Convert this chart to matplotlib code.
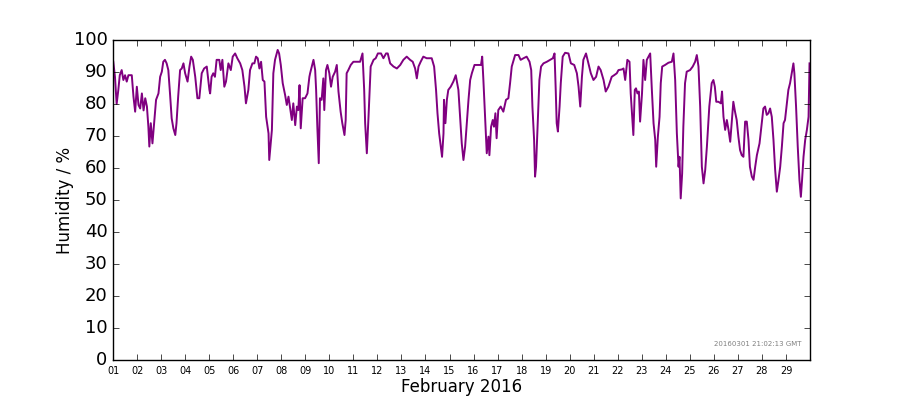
import numpy as np
import pandas as pd
import matplotlib
matplotlib.use("Agg")
import matplotlib.pyplot as plt
import matplotlib.dates as mdates

plt.style.use("classic")

# time in days since 2016-02-01 00:00, humidity in %
days = [
    0.01, 0.08, 0.15, 0.22, 0.28, 0.36, 0.43, 0.50, 0.57, 0.64, 0.78, 0.85, 0.92, 0.99,
    1.06, 1.13, 1.20, 1.27, 1.34, 1.41, 1.47, 1.51, 1.57, 1.64, 1.71, 1.79, 1.89, 1.96,
    2.03, 2.09, 2.16, 2.23, 2.30, 2.37, 2.44, 2.51, 2.59, 2.64, 2.71, 2.79, 2.86, 2.93,
    3.00, 3.10, 3.18, 3.25, 3.32, 3.42, 3.51, 3.59, 3.69, 3.79, 3.90, 4.01, 4.04, 4.10,
    4.17, 4.24, 4.31, 4.42, 4.48, 4.55, 4.63, 4.70, 4.80, 4.90, 4.98, 5.08, 5.17, 5.29,
    5.38, 5.47, 5.53, 5.63, 5.70, 5.80, 5.88, 5.95, 6.02, 6.09, 6.16, 6.23, 6.30, 6.37,
    6.47, 6.50, 6.56, 6.61, 6.67, 6.74, 6.85, 6.91, 6.98, 7.06, 7.16, 7.23, 7.30, 7.37,
    7.44, 7.50, 7.58, 7.65, 7.71, 7.76, 7.81, 7.89, 7.99, 8.09, 8.17, 8.20, 8.34, 8.41,
    8.45, 8.50, 8.56, 8.61, 8.68, 8.75, 8.79, 8.86, 8.92, 9.00, 9.07, 9.14, 9.24, 9.31,
    9.38, 9.47, 9.54, 9.63, 9.68, 9.72, 9.79, 9.89, 10.00, 10.28, 10.38, 10.45, 10.49,
    10.56, 10.63, 10.72, 10.84, 10.93, 11.02, 11.15, 11.25, 11.36, 11.43, 11.53, 11.67,
    11.81, 11.95, 12.08, 12.22, 12.36, 12.47, 12.57, 12.64, 12.71, 12.80, 12.91, 13.05,
    13.26, 13.36, 13.44, 13.50, 13.57, 13.64, 13.69, 13.75, 13.77, 13.83, 13.89, 13.95,
    14.05, 14.16, 14.26, 14.37, 14.44, 14.51, 14.58, 14.65, 14.72, 14.79, 14.86, 14.93,
    15.04, 15.31, 15.36, 15.41, 15.48, 15.55, 15.62, 15.66, 15.73, 15.80, 15.85, 15.91,
    15.96, 16.03, 16.13, 16.24, 16.35, 16.45, 16.52, 16.59, 16.73, 16.87, 16.96, 17.08,
    17.21, 17.33, 17.40, 17.45, 17.52, 17.56, 17.60, 17.67, 17.74, 17.81, 17.91, 18.05,
    18.19, 18.30, 18.37, 18.42, 18.46, 18.51, 18.58, 18.63, 18.71, 18.81, 18.95, 19.05,
    19.19, 19.30, 19.37, 19.44, 19.51, 19.57, 19.68, 19.78, 19.88, 19.99, 20.10, 20.20,
    20.29, 20.41, 20.50, 20.61, 20.75, 20.85, 20.96, 21.03, 21.17, 21.24, 21.31, 21.40,
    21.49, 21.54, 21.60, 21.65, 21.71, 21.76, 21.82, 21.88, 21.93, 22.01, 22.07, 22.14,
    22.21, 22.28, 22.35, 22.42, 22.49, 22.56, 22.60, 22.67, 22.74, 22.79, 22.85, 22.97,
    23.11, 23.25, 23.32, 23.39, 23.46, 23.53, 23.57, 23.62, 23.68, 23.73, 23.80, 23.87,
    24.01, 24.12, 24.22, 24.29, 24.36, 24.43, 24.50, 24.57, 24.64, 24.71, 24.81, 24.91,
    24.98, 25.04, 25.10, 25.19, 25.29, 25.34, 25.40, 25.47, 25.54, 25.61, 25.68, 25.74,
    25.81, 25.88, 25.95, 26.02, 26.09, 26.16, 26.23, 26.30, 26.37, 26.44, 26.50, 26.58,
    26.65, 26.72, 26.79, 26.90, 26.99, 27.06, 27.13, 27.20, 27.27, 27.34, 27.41, 27.48,
    27.55, 27.62, 27.69, 27.76, 27.83, 27.90, 27.96, 28.03, 28.10, 28.17, 28.24, 28.31,
    28.35, 28.42, 28.49, 28.56, 28.62, 28.67, 28.73, 28.80, 28.87, 28.94, 28.98,
]
humidity = [
    93.2, 88.5, 80.0, 84.4, 89.0, 90.6, 87.5, 89.0, 87.0, 89.0, 89.0, 82.3, 77.6, 85.4,
    79.7, 78.6, 83.3, 78.0, 81.8, 79.2, 72.9, 66.7, 74.0, 67.7, 74.0, 81.3, 83.3, 88.5,
    90.1, 93.2, 93.8, 92.7, 90.6, 83.3, 75.5, 72.4, 70.3, 74.0, 82.3, 90.6, 91.1, 92.7,
    89.6, 87.0, 91.7, 94.8, 93.8, 88.5, 81.8, 81.8, 89.6, 91.1, 91.7, 84.4, 83.3, 88.5,
    89.6, 88.5, 93.8, 93.8, 90.6, 93.8, 85.4, 87.0, 92.7, 90.6, 94.8, 95.8, 94.3, 92.7,
    90.6, 85.4, 80.2, 84.4, 90.6, 92.7, 92.7, 94.8, 94.3, 91.1, 93.2, 87.5, 87.0, 76.0,
    70.8, 62.5, 67.7, 71.9, 89.6, 93.8, 96.9, 95.8, 92.2, 86.5, 82.8, 79.7, 82.3, 78.6,
    75.0, 80.2, 73.4, 79.2, 78.1, 85.9, 72.4, 81.8, 81.8, 83.3, 88.5, 89.6, 93.8, 90.6,
    84.4, 72.9, 61.5, 81.8, 81.3, 88.0, 78.1, 90.6, 92.2, 89.6, 85.4, 88.5, 90.1, 92.2,
    83.9, 77.6, 74.0, 70.3, 75.0, 89.6, 90.6, 92.2, 93.2, 93.2, 95.8, 84.4, 74.0,
    64.6, 76.0, 91.7, 93.8, 94.3, 95.8, 95.8, 94.3, 95.8, 95.8, 92.7, 91.7,
    91.1, 92.2, 93.8, 94.8, 93.8, 93.2, 91.1, 88.0, 91.7, 93.2, 94.8, 94.3,
    94.3, 91.7, 84.4, 77.1, 70.8, 66.7, 63.5, 70.8, 81.3, 74.0, 81.3, 84.4,
    85.4, 87.0, 89.0, 84.4, 76.0, 67.7, 62.5, 66.7, 74.0, 81.3, 87.5, 89.6,
    92.2, 92.2, 94.8, 87.5, 76.0, 64.6, 69.8, 64.0, 72.9, 75.0, 72.9, 77.1,
    69.3, 78.1, 79.2, 77.6, 81.3, 81.8, 86.5, 91.7, 95.3, 95.3, 93.8, 94.3,
    94.8, 93.2, 90.6, 79.2, 68.8, 57.3, 60.4, 74.0, 87.5, 91.7, 92.7, 93.2,
    93.8, 94.3, 95.8, 84.4, 74.0, 71.4, 79.2, 86.5, 94.8, 96.0, 95.8, 92.7,
    92.2, 89.6, 85.4, 79.2, 88.5, 93.8, 95.8, 92.7, 89.6, 87.5, 88.5, 91.7,
    90.6, 87.5, 83.9, 85.4, 88.5, 89.0, 89.6, 90.6, 90.8, 91.1, 87.5, 93.8,
    93.2, 83.3, 76.0, 70.3, 84.4, 84.9, 83.3, 83.9, 74.5, 83.3, 93.8, 87.5,
    93.8, 94.8, 95.8, 84.4, 74.0, 68.8, 60.4, 69.8, 76.0, 86.5, 91.7, 92.2,
    92.9, 93.2, 95.8, 87.5, 70.8, 60.4, 63.5, 50.5, 58.3, 72.9, 86.5, 90.1,
    90.6, 91.7, 93.2, 95.3, 91.7, 79.2, 60.4, 55.2, 59.4, 66.7, 79.2, 86.5,
    87.5, 85.4, 80.7, 80.7, 80.2, 83.9, 76.0, 71.9, 75.0, 71.9, 68.2, 74.0,
    80.7, 77.6, 75.0, 69.8, 65.6, 64.0, 63.5, 74.5, 74.5, 68.8, 60.4, 57.3,
    56.3, 60.4, 64.0, 67.7, 74.0, 78.6, 79.2, 76.6, 77.1, 78.6, 76.0, 68.8,
    59.4, 52.6, 56.3, 60.4, 66.7, 74.0, 75.0, 79.7, 84.4, 86.5, 89.6, 92.7,
    89.6, 79.2, 66.7, 56.3, 51.0, 56.3, 63.5, 68.8, 71.9, 76.0, 92.7,
]
stamp = "20160301 21:02:13 GMT"

start = pd.Timestamp("2016-02-01")
times = start + pd.to_timedelta(days, unit="D")
tick_days = pd.date_range("2016-02-01", "2016-02-29", freq="D")

fig = plt.figure(figsize=(9, 4), dpi=100, facecolor="white")
ax = fig.add_axes([0.1256, 0.1, 0.7744, 0.8])

ax.plot(times.to_pydatetime(), humidity, color="purple", lw=1.4)

ax.set_xlim(start, pd.Timestamp("2016-03-01"))
ax.set_ylim(0, 100)
ax.yaxis.set_major_locator(plt.MultipleLocator(10))
ax.set_xticks(tick_days.to_pydatetime())
ax.xaxis.set_major_formatter(mdates.DateFormatter("%d"))
ax.tick_params(axis="x", labelsize=7)
ax.tick_params(axis="y", labelsize=13)

ax.set_xlabel("February 2016", fontsize=12, labelpad=2)
ax.set_ylabel("Humidity / %", fontsize=12, labelpad=0)

ax.text(0.988, 0.045, stamp, transform=ax.transAxes, ha="right",
        fontsize=5, color="gray")

fig.savefig("out.png", dpi=100, facecolor="white")
